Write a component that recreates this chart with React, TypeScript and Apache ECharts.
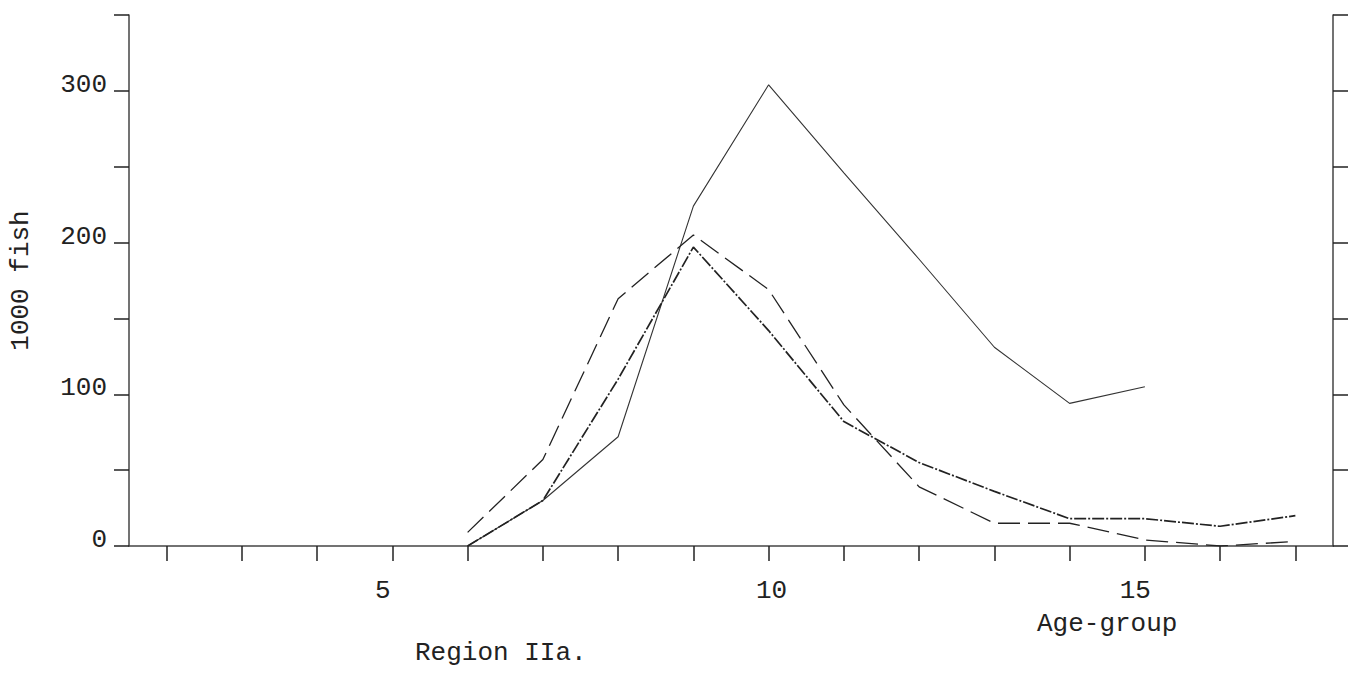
import React, { useEffect, useRef } from "react";
import * as echarts from "echarts";

// Age groups on the x axis
const ages: number[] = [6, 7, 8, 9, 10, 11, 12, 13, 14, 15, 16, 17];

// Numbers of fish (thousands) per age group, three series
const seriesSolid: (number | null)[] = [0, 30, 72, 224, 304, 246, 189, 131, 94, 105, null, null];
const seriesDashDot: (number | null)[] = [0, 30, 110, 197, 142, 82, 55, 36, 18, 18, 13, 20];
const seriesDashed: (number | null)[] = [9, 57, 163, 205, 169, 93, 39, 15, 15, 4, 0, 3];

// Axis tick and label values
const xTickValues: number[] = [2, 3, 4, 5, 6, 7, 8, 9, 10, 11, 12, 13, 14, 15, 16, 17];
const xLabelValues: number[] = [5, 10, 15];
const yTickValues: number[] = [0, 50, 100, 150, 200, 250, 300, 350];
const yLabelValues: number[] = [0, 100, 200, 300];

const FONT = "'Liberation Mono', 'Courier New', monospace";
const INK = "#222";

function pairs(vals: (number | null)[]): (number | null)[][] {
  return ages.map((a, i) => [a, vals[i]]);
}

// Typed labels sit a little off their ticks
function xLabelStyle(v: number): string {
  if (v === 5) return `{l|${v}}`;
  if (v === 15) return `{l|${v}}`;
  if (v === 10) return `{r|${v}}`;
  return `${v}`;
}

export default function App() {
  const ref = useRef<HTMLDivElement>(null);

  useEffect(() => {
    if (!ref.current) return;
    const chart = echarts.init(ref.current, undefined, { renderer: "svg" });

    const textBase = { fontFamily: FONT, fontSize: 26, color: INK };

    const yAxisBase = {
      type: "value" as const,
      min: 0,
      max: 350,
      interval: 50,
      splitLine: { show: false },
      axisLine: { show: true, lineStyle: { color: "#444", width: 1.5 } },
      axisTick: {
        show: true,
        inside: false,
        length: 15,
        customValues: yTickValues,
        lineStyle: { color: INK, width: 1.5 },
      },
    };

    chart.setOption({
      animation: false,
      backgroundColor: "#fff",
      grid: { left: 120, right: 26, top: 15, bottom: 129, containLabel: false },
      xAxis: {
        type: "value",
        min: 1.5,
        max: 17.5,
        splitLine: { show: false },
        axisLine: { show: true, onZero: false, lineStyle: { color: "#444", width: 1.5 } },
        axisTick: {
          show: true,
          length: 15,
          customValues: xTickValues,
          lineStyle: { color: INK, width: 1.5 },
        },
        axisLabel: {
          show: true,
          customValues: xLabelValues,
          margin: 32,
          verticalAlign: "top",
          ...textBase,
          formatter: (v: number) => xLabelStyle(v),
          rich: {
            l: { ...textBase, padding: [0, 19, 0, 0] },
            r: { ...textBase, padding: [0, 0, 0, 6] },
          },
        },
      },
      yAxis: [
        {
          ...yAxisBase,
          position: "left",
          name: "1000 fish",
          nameLocation: "middle",
          nameRotate: 90,
          nameGap: 95,
          nameTextStyle: textBase,
          axisLabel: {
            show: true,
            customValues: yLabelValues,
            margin: 22,
            verticalAlign: "middle",
            ...textBase,
            formatter: (v: number) => `{v|${v}}`,
            rich: { v: { ...textBase, padding: [0, 0, 12, 0] } },
          },
        },
        {
          ...yAxisBase,
          position: "right",
          axisLabel: { show: false },
        },
      ],
      graphic: [
        {
          type: "text",
          left: 1037,
          top: 611,
          style: { text: "Age-group", font: `26px ${FONT}`, fill: INK },
        },
        {
          type: "text",
          left: 415,
          top: 640,
          style: { text: "Region IIa.", font: `26px ${FONT}`, fill: INK },
        },
      ],
      series: [
        {
          name: "solid",
          type: "line",
          data: pairs(seriesSolid),
          showSymbol: false,
          connectNulls: false,
          lineStyle: { color: "#333", width: 1.1, type: "solid" },
        },
        {
          name: "dash-dot",
          type: "line",
          data: pairs(seriesDashDot),
          showSymbol: false,
          lineStyle: { color: INK, width: 1.7, type: [12, 2, 2, 2] },
        },
        {
          name: "dashed",
          type: "line",
          data: pairs(seriesDashed),
          showSymbol: false,
          lineStyle: { color: INK, width: 1.3, type: [22, 8] },
        },
      ],
    });

    return () => chart.dispose();
  }, []);

  return (
    <div
      ref={ref}
      style={{ position: "fixed", left: 0, top: 0, width: 1359, height: 675 }}
    />
  );
}
